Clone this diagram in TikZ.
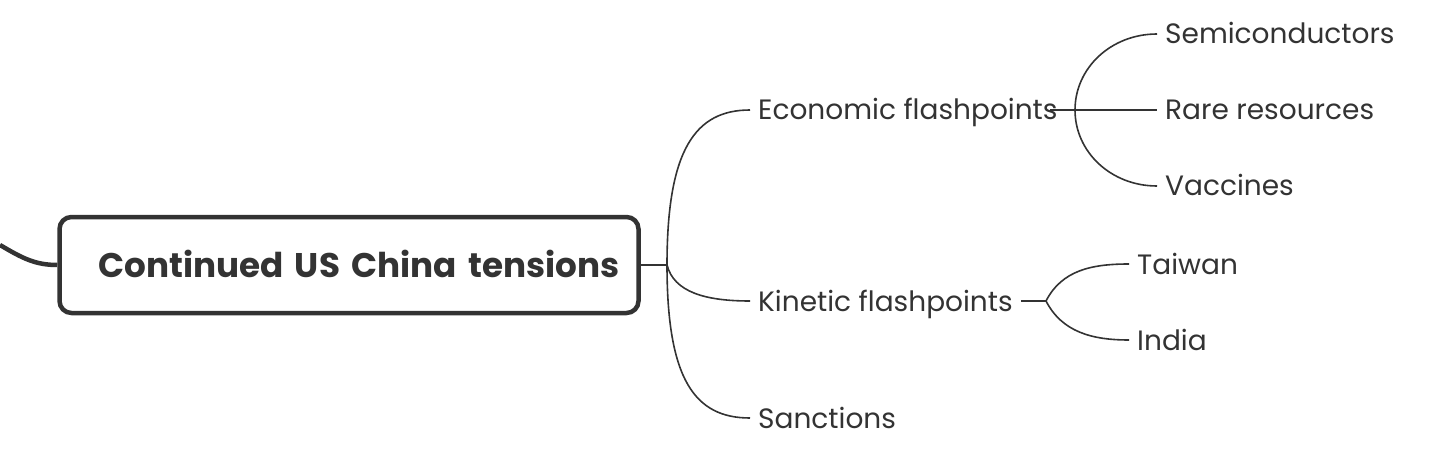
\documentclass[tikz,border=0pt]{standalone}
\usepackage{fontspec}
\setmainfont{Poppins}
\usetikzlibrary{positioning}
\definecolor{ink}{HTML}{333333}

\begin{document}
\begin{tikzpicture}[x=1pt,y=-1pt,
    root/.style={draw=ink,line width=4.5pt,rounded corners=12pt,
                 minimum width=579pt,minimum height=96pt,text=ink,
                 inner xsep=19pt,text width=541pt,align=right,
                 font=\fontsize{34.2}{40}\selectfont\bfseries,
                 text height=24pt,text depth=0pt},
    topic/.style={anchor=west,inner xsep=8pt,inner ysep=2pt,text=ink,
                  font=\fontsize{28}{32}\selectfont,
                  text height=20pt,text depth=0pt},
    trunk/.style={draw=ink,line width=4.5pt},
    branch/.style={draw=ink,line width=1.6pt}]

  \useasboundingbox (0,0) rectangle (1449,476);

  \node [root] (tensions) at (349,265) {Continued US China tensions};

  \node [topic] (econ)      at (750,110) {Economic flashpoints};
  \node [topic] (kinetic)   at (750,301) {Kinetic flashpoints};
  \node [topic] (sanctions) at (750,418) {Sanctions};

  \node [topic] (chips)    at (1157,34)  {Semiconductors};
  \node [topic] (rare)     at (1157,110) {Rare resources};
  \node [topic] (vaccines) at (1157,186) {Vaccines};

  \node [topic] (taiwan) at (1129,264) {Taiwan};
  \node [topic] (india)  at (1129,340) {India};

  % junction points
  \coordinate (parent) at (0,245);
  \coordinate (j0) at (667,265);
  \coordinate (j1) at (1075,110);
  \coordinate (j2) at (1046,301);

  \draw [trunk] (parent) .. controls (22,258) and (35,265) .. (tensions.west);

  \draw [branch] (tensions.east) -- (j0);
  \draw [branch] (j0) .. controls (667,150) and (695,110) .. (econ.west);
  \draw [branch] (j0) .. controls (674,292) and (705,301) .. (kinetic.west);
  \draw [branch] (j0) .. controls (667,380) and (695,418) .. (sanctions.west);

  \draw [branch] ([xshift=-16pt]econ.east) -- (j1);
  \draw [branch] (j1) .. controls (1075,68) and (1111,34) .. (chips.west);
  \draw [branch] (j1) -- (rare.west);
  \draw [branch] (j1) .. controls (1075,152) and (1111,186) .. (vaccines.west);

  \draw [branch] (kinetic.east) -- (j2);
  \draw [branch] (j2) .. controls (1062,270) and (1092,264) .. (taiwan.west);
  \draw [branch] (j2) .. controls (1062,332) and (1092,340) .. (india.west);

\end{tikzpicture}
\end{document}
